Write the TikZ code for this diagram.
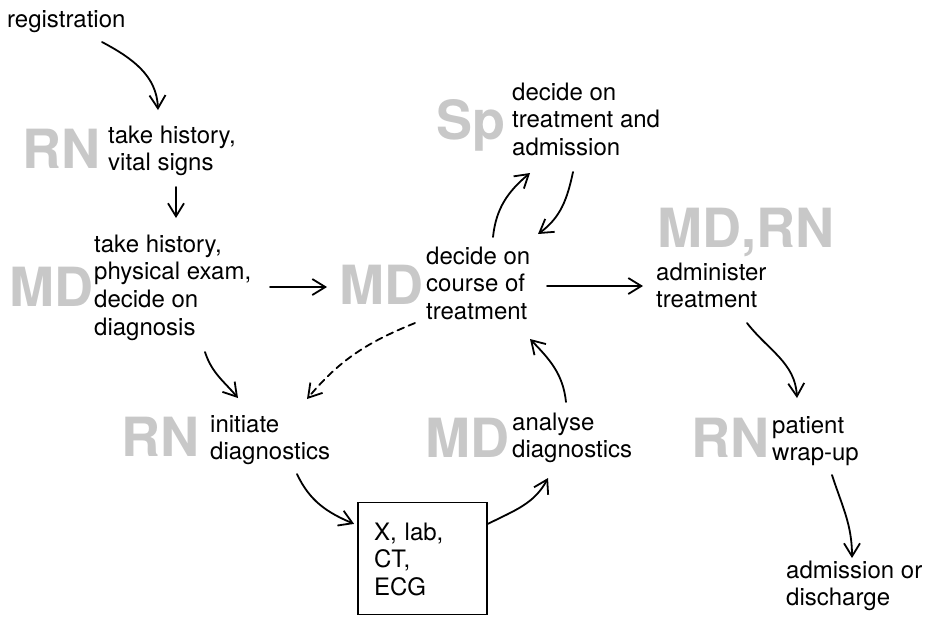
\documentclass[tikz,border=0pt]{standalone}
\usepackage{fontspec}
\setmainfont{TeX Gyre Heros}
\usetikzlibrary{arrows.meta}
\definecolor{rolegray}{RGB}{200,200,200}

\begin{document}
\begin{tikzpicture}[x=1pt,y=-1pt,
  task/.style={anchor=north west, yshift=19.39pt, inner sep=0pt, align=left,
    font=\fontsize{24}{27.7}\selectfont},
  role/.style={inner sep=0pt, text=rolegray,
    font=\fontsize{54}{54}\selectfont\bfseries},
  flow/.style={line width=1.8pt, line cap=round,
    -{Straight Barb[length=13pt,width=16pt,line width=1.8pt]}},
  dashflow/.style={flow, dash pattern=on 7pt off 5pt},
]
\useasboundingbox (0,0) rectangle (934,622);

% tasks (each first line carries a strut so that the top edge sits at a fixed height above the baseline)
\node[task] (reg)    at (7,27)    {\strut registration};
\node[task] (hist)   at (108,143) {\strut take history,\\vital signs};
\node[task] (exam)   at (94,252)  {\strut take history,\\physical exam,\\decide on\\diagnosis};
\node[task] (spec)   at (512,100) {\strut decide on\\treatment and\\admission};
\node[task] (course) at (426,264) {\strut decide on\\course of\\treatment};
\node[task] (admin)  at (656,280) {\strut administer\\treatment};
\node[task] (init)   at (210,432) {\strut initiate\\diagnostics};
\node[task] (anal)   at (512,430) {\strut analyse\\diagnostics};
\node[task] (wrap)   at (772,433) {\strut patient\\wrap-up};
\node[task] (out)    at (786,578) {\strut admission or\\discharge};

% the tests box
\node[draw, line width=1.8pt, minimum width=129pt, minimum height=112pt,
      text width=97pt, inner xsep=16pt, inner ysep=0pt, align=left,
      font=\fontsize{24}{27.7}\selectfont] (tests) at (422.5,558.5)
      {\strut X, lab,\\CT,\\ECG};

% who does what
\node[role, anchor=base east] (rn1)  at (101,168) {RN};
\node[role, anchor=base east] (md1)  at (94,306)  {MD};
\node[role, anchor=base east] (sp)   at (506,139) {Sp};
\node[role, anchor=base east] (md2)  at (424,304) {MD};
\node[role, anchor=base west] (mdrn) at (657,247) {MD,RN};
\node[role, anchor=base east] (rn2)  at (200,456) {RN};
\node[role, anchor=base east] (md3)  at (510,457) {MD};
\node[role, anchor=base east] (rn3)  at (770,457) {RN};

% flow
\draw[flow] ([shift={(95,34.4)}]reg.north west) to[out=-28,in=92]
            ([shift={(50,-13.6)}]hist.north west);
\draw[flow] ([shift={(68,63.4)}]hist.north west) --
            ([shift={(82,-14.6)}]exam.north west);
\draw[flow] ([shift={(176,54.4)}]exam.north west) --
            ([shift={(-99,42.4)}]course.north west);
\draw[flow] ([shift={(67,-7.6)}]course.north west) to[out=84,in=-140]
            ([shift={(18,92.4)}]spec.north west);
\draw[flow] ([shift={(61,91.4)}]spec.north west) to[out=-102,in=36]
            ([shift={(112,-10.6)}]course.north west);
\draw[flow] ([shift={(121,41.4)}]course.north west) --
            ([shift={(-13,25.4)}]admin.north west);
\draw[flow] ([shift={(91,62.4)}]admin.north west) to[out=-52,in=93]
            ([shift={(25,-15.6)}]wrap.north west);
\draw[flow] ([shift={(60,61.4)}]wrap.north west) to[out=-72,in=90]
            ([shift={(66,-0.6)}]out.north west);
\draw[flow] ([shift={(111,119.4)}]exam.north west) to[out=-72,in=130]
            ([shift={(28,-14.6)}]init.north west);
\draw[dashflow] ([shift={(-11,78.4)}]course.north west) to[out=-158,in=50]
            ([shift={(97,-13.6)}]init.north west);
\draw[flow] ([shift={(87,61.4)}]init.north west) to[out=-65,in=157]
            ([shift={(-3,22.3)}]tests.north west);
\draw[flow] ([shift={(0,22.3)}]tests.north east) to[out=27,in=-118]
            ([shift={(36,67.4)}]anal.north west);
\draw[flow] ([shift={(54,-8.6)}]anal.north west) to[out=96,in=-46]
            ([shift={(104,94.4)}]course.north west);
\end{tikzpicture}
\end{document}
